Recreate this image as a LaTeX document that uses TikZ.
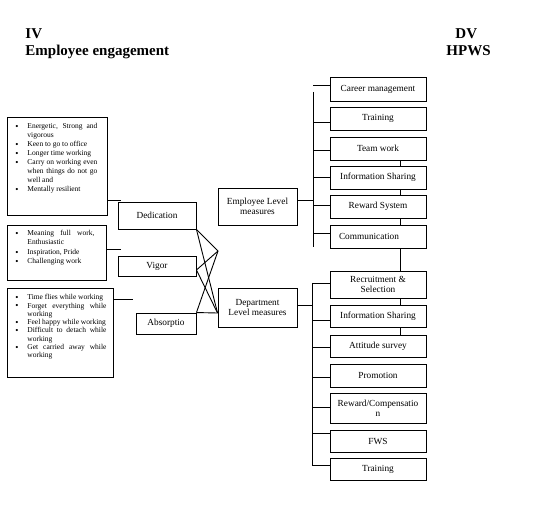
\documentclass[tikz,border=0pt]{standalone}
\usepackage{fontspec}
\setmainfont{Liberation Serif}
\usetikzlibrary{backgrounds}
\newcommand{\boxfont}{\fontsize{9.3}{10}\selectfont}
\newcommand{\listfont}{\fontsize{7.5}{8.6}\selectfont}
\newcommand{\headfont}{\fontsize{15}{17}\selectfont\bfseries}
\newcommand{\bitem}[1]{\noindent\hangindent=12pt\hangafter=1\makebox[12pt][l]{\raisebox{-0.9pt}{\fontsize{9}{9}\selectfont\textbullet}}#1\par}
\begin{document}
\begin{tikzpicture}[x=1pt,y=-1pt,line width=0.9pt,
  lbox/.style={draw,fill=white,inner sep=0pt,anchor=north west},
  lab/.style={draw,fill=white,inner sep=1pt,align=center,font=\boxfont},
  ltext/.style={anchor=north west,inner sep=0pt,font=\listfont,align=justify},
  head/.style={anchor=base west,inner sep=0pt,font=\headfont}]
\useasboundingbox (0,0) rectangle (558,508);
% headings
\node[head] (iv) at (25,39) {IV};
\node[head] (ee) at (25,56) {Employee engagement};
\node[head] (dv) at (455,39) {DV};
\node[head] (hp) at (446,56) {HPWS};
% left description boxes
\node[lbox,minimum width=100pt,minimum height=98pt] (b1) at (7,117) {};
\node[ltext,text width=82pt] (b1t) at (15,123) {\baselineskip=9pt
\bitem{Energetic, Strong and\linebreak vigorous}%
\bitem{Keen to go to office}%
\bitem{Longer time working}%
\bitem{Carry on working even\linebreak when things do not go\linebreak well and}%
\bitem{Mentally resilient}};
\node[lbox,minimum width=99pt,minimum height=55pt] (b2) at (7,225) {};
\node[ltext,text width=79pt] (b2t) at (15,230) {\baselineskip=9.2pt
\bitem{Meaning full work,\linebreak Enthusiastic}%
\bitem{Inspiration, Pride}%
\bitem{Challenging work}};
\node[lbox,minimum width=106pt,minimum height=89pt] (b3) at (7,288) {};
\node[ltext,text width=91pt] (b3t) at (15,294) {\baselineskip=8.3pt
\bitem{Time flies while working}%
\bitem{Forget everything while\linebreak working}%
\bitem{Feel happy while working}%
\bitem{Difficult to detach while\linebreak working}%
\bitem{Get carried away while\linebreak working}};
% engagement dimensions
\node[lab,minimum width=78pt,minimum height=27pt] (ded) at (157,215.5) {Dedication};
\node[lab,minimum width=78pt,minimum height=20pt] (vig) at (157,266) {Vigor};
\node[lab,minimum width=60pt,minimum height=21pt] (abs) at (166,323.5) {Absorptio};
% stubs
\coordinate (s1) at (121,200);
\coordinate (s2) at (121,249);
\coordinate (s3) at (133,299);
\draw (b1.east |- s1) -- (s1);
\draw (b2.east |- s2) -- (s2);
\draw (b3.east |- s3) -- (s3);
% measures
\node[lab,minimum width=79pt,minimum height=37pt] (emp) at (257.5,206.5) {Employee Level\\measures};
\node[lab,minimum width=79pt,minimum height=39pt] (dept) at (257.5,307.5) {Department\\Level measures};
% crossing connectors
\coordinate (apex) at (218,251);
\coordinate (conv) at ([yshift=-5.5pt]dept.west);
\draw (ded.south east) -- (apex);
\draw (ded.south east) -- (conv);
\draw ([yshift=-4pt]vig.east) -- (apex);
\draw ([yshift=-4pt]vig.east) -- (conv);
\draw (abs.north east) -- (apex);
\draw (abs.north east) -- (conv);
% HPWS boxes, employee level
\node[lab,minimum width=96pt,minimum height=24pt] (car) at (378,89) {Career management};
\node[lab,minimum width=96pt,minimum height=23pt] (tr1) at (378,118.5) {Training};
\node[lab,minimum width=96pt,minimum height=23pt] (tw) at (378,148.5) {Team work};
\node[lab,minimum width=96pt,minimum height=23pt] (is1) at (378,177.5) {Information Sharing};
\node[lab,minimum width=96pt,minimum height=23pt] (rs) at (378,206.5) {Reward System};
\node[lab,minimum width=96pt,minimum height=23pt] (com) at (378,236.5) {Communication\hspace*{18pt}};
% HPWS boxes, department level
\node[lab,minimum width=96pt,minimum height=27pt] (rec) at (378,284.5) {Recruitment \&\\Selection};
\node[lab,minimum width=96pt,minimum height=22pt] (is2) at (378,316) {Information Sharing};
\node[lab,minimum width=96pt,minimum height=22pt] (att) at (378,346) {Attitude survey};
\node[lab,minimum width=96pt,minimum height=23pt] (pro) at (378,375.5) {Promotion};
\node[lab,minimum width=96pt,minimum height=30pt] (rew) at (378,408) {Reward/Compensatio\\n};
\node[lab,minimum width=96pt,minimum height=22pt] (fws) at (378,441) {FWS};
\node[lab,minimum width=96pt,minimum height=22pt] (tr2) at (378,469) {Training};
% background vertical line through boxes
\begin{pgfonlayer}{background}
\draw ([xshift=22pt]tw.south) -- ([xshift=22pt]att.north);
\end{pgfonlayer}
% employee-level tree
\coordinate (v1t) at (313,92);
\coordinate (v1b) at (313,247);
\draw (v1t) -- (v1b);
\draw ([yshift=6pt]emp.east) -- ++(16,0);
\draw ([yshift=4pt]car.west) -- ++(-17,0);
\draw ([yshift=-3.5pt]tr1.west) -- ++(-17,0);
\draw ([yshift=-1.5pt]tw.west) -- ++(-17,0);
\draw ([yshift=0.5pt]is1.west) -- ++(-17,0);
\draw ([yshift=1.5pt]rs.west) -- ++(-17,0);
\draw ([yshift=3.5pt]com.west) -- ++(-17,0);
% department-level tree
\coordinate (v2t) at (312,283);
\coordinate (v2b) at (312,465);
\draw (v2t) -- (v2b);
\draw ([yshift=2.5pt]dept.east) -- ++(15,0);
\draw ([yshift=1.5pt]rec.west) -- ++(-18,0);
\draw ([yshift=-4pt]is2.west) -- ++(-18,0);
\draw ([yshift=-1pt]att.west) -- ++(-18,0);
\draw ([yshift=-1.5pt]pro.west) -- ++(-18,0);
\draw ([yshift=1pt]rew.west) -- ++(-18,0);
\draw ([yshift=8pt]fws.west) -- ++(-18,0);
\draw ([yshift=4pt]tr2.west) -- ++(-18,0);
\end{tikzpicture}
\end{document}
